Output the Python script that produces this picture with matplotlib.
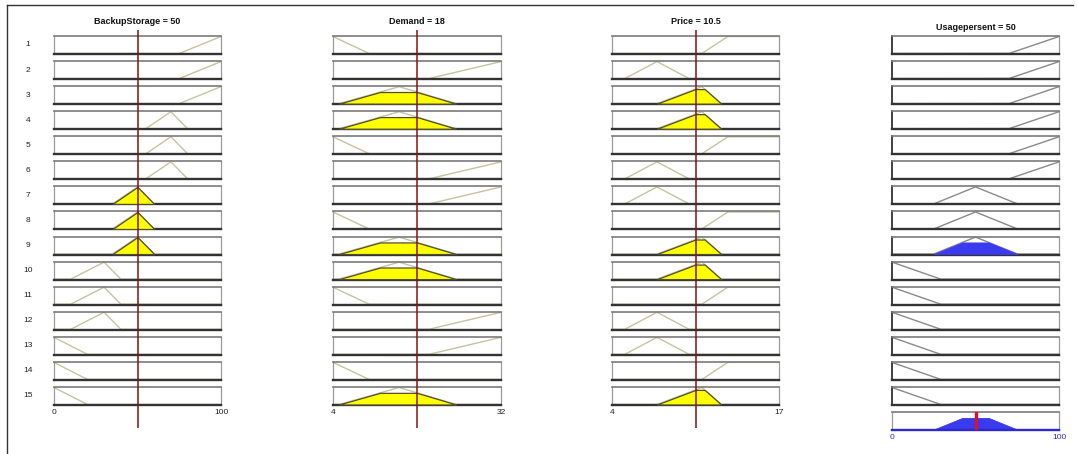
import numpy as np
import matplotlib
matplotlib.use("Agg")
import matplotlib.pyplot as plt
from matplotlib.lines import Line2D

plt.rcParams['font.family'] = ['Liberation Sans', 'DejaVu Sans']

W, H = 1077, 454

# ---------------- data ----------------
rule_ids = list(range(1, 16))

var_names = ['BackupStorage', 'Demand', 'Price']
input_values = [50, 18, 10.5]
input_ranges = [[0, 100], [4, 32], [4, 17]]
output_name = 'Usagepersent'
output_value = 50
output_range = [0, 100]

# membership functions (trapezoid params a, b, c, d)
backup_mfs = {'low': [0, 0, 0, 20], 'lowmid': [10, 30, 30, 40], 'mid': [35, 50, 50, 60],
              'midhigh': [55, 70, 70, 80], 'high': [75, 100, 100, 100]}
demand_mfs = {'low': [4, 4, 4, 10], 'med': [5, 15, 15, 24.5], 'high': [20, 32, 32, 32]}
price_mfs = {'low': [5, 7.5, 7.5, 10], 'med': [7.5, 11, 11, 12.5], 'high': [11, 13, 17, 17]}
usage_mfs = {'low': [0, 0, 0, 29], 'med': [25, 50, 50, 75], 'high': [70, 100, 100, 100]}

backup_rule = ['high', 'high', 'high', 'midhigh', 'midhigh', 'midhigh', 'mid', 'mid', 'mid',
               'lowmid', 'lowmid', 'lowmid', 'low', 'low', 'low']
demand_rule = ['low', 'high', 'med', 'med', 'low', 'high', 'high', 'low', 'med', 'med',
               'low', 'high', 'high', 'low', 'med']
price_rule = ['high', 'low', 'med', 'med', 'high', 'low', 'low', 'high', 'med', 'med',
              'high', 'low', 'low', 'high', 'med']
usage_rule = ['high'] * 6 + ['med'] * 3 + ['low'] * 6

# ---------------- helpers ----------------
def trapmf(x, p):
    a, b, c, d = p
    up = np.ones_like(x) if b == a else np.clip((x - a) / (b - a), 0, 1)
    dn = np.ones_like(x) if d == c else np.clip((d - x) / (d - c), 0, 1)
    y = np.minimum(up, dn)
    y[(x < a) | (x > d)] = 0
    return y

def mu(val, p):
    return float(trapmf(np.array([val], dtype=float), p)[0])

col_px = [(54, 221), (333, 501), (612, 779), (892, 1059)]
row_top0 = 36.0
row_step = 25.07
row_h = 18.0

def add_px_axes(x0, x1, ytop, ybot):
    return fig.add_axes([x0 / W, 1 - ybot / H, (x1 - x0) / W, (ybot - ytop) / H])

MF_IN = '#c4c4a0'
MF_OUT = '#8a8a8a'
EDGE_TOP = '#7a7a7a'
EDGE_SIDE = '#9a9a9a'
EDGE_DARK = '#333333'
RED = '#8b1010'

fig = plt.figure(figsize=(W / 100, H / 100), dpi=100)
fig.patch.set_facecolor('white')

def style_box(ax, xr, dark_left=False, bottom_color=EDGE_DARK):
    ax.set_xlim(xr)
    ax.set_ylim(-0.03, 1.03)
    ax.set_xticks([])
    ax.set_yticks([])
    ax.spines['top'].set_color(EDGE_TOP)
    ax.spines['top'].set_linewidth(1.2)
    for s in ['right', 'left']:
        ax.spines[s].set_color(EDGE_SIDE)
        ax.spines[s].set_linewidth(0.9)
    ax.spines['bottom'].set_color(bottom_color)
    ax.spines['bottom'].set_linewidth(1.7)
    if dark_left:
        ax.spines['left'].set_color(EDGE_DARK)
        ax.spines['left'].set_linewidth(1.3)

all_mfs = [backup_mfs, demand_mfs, price_mfs]
all_rules = [backup_rule, demand_rule, price_rule]

# firing strengths (AND = min)
firing = []
for r in range(15):
    degs = [mu(input_values[k], all_mfs[k][all_rules[k][r]]) for k in range(3)]
    firing.append(min(degs))

# ---------------- input columns ----------------
for k in range(3):
    x0, x1 = col_px[k]
    lo, hi = input_ranges[k]
    xs = np.linspace(lo, hi, 601)
    for r in range(15):
        ytop = row_top0 + r * row_step
        ax = add_px_axes(x0, x1, ytop, ytop + row_h)
        style_box(ax, (lo, hi))
        p = all_mfs[k][all_rules[k][r]]
        y = trapmf(xs, p)
        ax.plot(xs, y, color=MF_IN, lw=1.0, clip_on=False, zorder=2)
        deg = mu(input_values[k], p)
        if deg > 0:
            yc = np.minimum(y, deg)
            ax.fill_between(xs, 0, yc, where=yc > 0, facecolor='#ffff00',
                            edgecolor='#505030', lw=0.9, zorder=3)
        if r == 14:
            ax.set_xticks([lo, hi])
            ax.set_xticklabels([f'{lo:g}', f'{hi:g}'])
            ax.tick_params(axis='x', length=0, labelsize=6, pad=3, colors='#222222')
        if k == 0:
            fig.text(28 / W, 1 - (ytop + row_h / 2) / H, str(rule_ids[r]), fontsize=6,
                     ha='center', va='center', color='#222222')
    fig.text((x0 + x1) / 2 / W, 1 - 22 / H, f'{var_names[k]} = {input_values[k]:g}',
             fontsize=6.5, fontweight='bold', ha='center', va='center', color='#111111')
    # input indicator line
    lax = add_px_axes(x0, x1, 30, 428)
    lax.set_xlim(lo, hi)
    lax.set_ylim(0, 1)
    lax.axis('off')
    lax.axvline(input_values[k], color=RED, lw=1.1)

# ---------------- output column ----------------
x0, x1 = col_px[3]
lo, hi = output_range
xs = np.linspace(lo, hi, 601)
agg = np.zeros_like(xs)
for r in range(15):
    ytop = row_top0 + r * row_step
    ax = add_px_axes(x0, x1, ytop, ytop + row_h)
    style_box(ax, (lo, hi), dark_left=True)
    y = trapmf(xs, usage_mfs[usage_rule[r]])
    ax.plot(xs, y, color=MF_OUT, lw=1.0, clip_on=False, zorder=2)
    if firing[r] > 0:
        yc = np.minimum(y, firing[r])
        agg = np.maximum(agg, yc)
        ax.fill_between(xs, 0, yc, where=yc > 0, facecolor='#3a3aee',
                        edgecolor='#3a3aee', lw=0.6, zorder=3)

fig.text((x0 + x1) / 2 / W, 1 - 28 / H, f'{output_name} = {output_value:g}',
         fontsize=6.5, fontweight='bold', ha='center', va='center', color='#111111')

ytop = row_top0 + 15 * row_step
ax = add_px_axes(x0, x1, ytop, ytop + row_h)
style_box(ax, (lo, hi), bottom_color='#2a2ad0')
ax.fill_between(xs, 0, agg, where=agg > 0, facecolor='#3a3aee', edgecolor='#3a3aee',
                lw=0.6, zorder=2)
ax.axvline(output_value, color='#e0102a', lw=2.4, zorder=4)
ax.set_xticks([lo, hi])
ax.set_xticklabels([f'{lo:g}', f'{hi:g}'])
ax.tick_params(axis='x', length=0, labelsize=6, pad=3, colors='#2a2ad0')

# outer frame (left and top edges)
fig.add_artist(Line2D([7 / W, 7 / W], [0, 1 - 5 / H], color='#333333', lw=1.0))
fig.add_artist(Line2D([7 / W, 1073 / W], [1 - 5 / H, 1 - 5 / H], color='#333333', lw=1.0))

fig.savefig('out.png', dpi=100, facecolor='white')
